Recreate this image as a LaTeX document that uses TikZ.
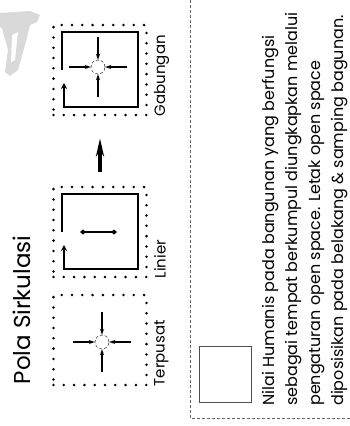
\documentclass[tikz,border=0pt]{standalone}
\usepackage{fontspec}
\setmainfont{Poppins}
\usepackage{tikz}
\usetikzlibrary{positioning, arrows.meta, calc}

\begin{document}
\begin{tikzpicture}[x=1pt, y=-1pt,
      dotbox/.style={draw, line width=2.8pt, line cap=round, dash pattern=on 0pt off 10.3pt, minimum width=93pt, minimum height=90pt, inner sep=0pt},
      route/.style={line width=2pt, -{Stealth[length=6pt, width=6pt]}},
      hub/.style={draw, circle, densely dashed, thin, minimum size=14pt, inner sep=0pt},
      inarrow/.style={line width=1.3pt, -{Stealth[length=6pt, width=4pt, open]}},
      tag/.style={rotate=90, anchor=north west, inner sep=0pt, font=\fontsize{15}{17}\selectfont}]
      \useasboundingbox (0,0) rectangle (350,426);
      % faded mark in the corner
      \fill[gray!30] (0,13) -- (30,11) -- (40,15) -- (37,22) -- (30,25) -- (25,45) -- (18,70) -- (10,76) -- (5,72) -- (8,50) -- (2,28) -- (0,27) -- cycle;
      \fill[white] (12,35) -- (18,32) -- (15,60) -- (11,62) -- cycle;
      \node[rotate=90, font=\fontsize{23}{25}\selectfont] (title) at (22,310) {Pola Sirkulasi};
      % the three patterns
      \node[dotbox] (gab) at (100,70)  {};
      \node[dotbox] (lin) at (100,232) {};
      \node[dotbox] (ter) at (100,340) {};
      \node[tag] (gabt) at ([xshift=6pt]gab.south east) {Gabungan};
      \node[tag] (lint) at ([xshift=6pt]lin.south east) {Linier};
      \node[tag] (tert) at ([xshift=6pt]ter.south east) {Terpusat};
      \foreach \b in {gab,lin}
        \draw[route] ([shift={(-38,0)}]\b.center) -- ++(0,-38) -- ++(76,0) -- ++(0,75) -- ++(-74,0) -- ++(0,-24);
      \node[hub] (gabc) at ([shift={(-2,-3)}]gab.center) {};
      \node[hub] (terc) at ([shift={(2,2)}]ter.center) {};
      \foreach \c in {gabc,terc}{
        \draw[inarrow] ([yshift=30pt]\c.center) -- (\c.north);
        \draw[inarrow] ([yshift=-30pt]\c.center) -- (\c.south);
        \draw[inarrow] ([xshift=-29pt]\c.center) -- (\c.west);
        \draw[inarrow] ([xshift=29pt]\c.center) -- (\c.east);
      }
      \draw[line width=2pt, {Diamond[length=6pt, width=5pt]}-{Diamond[length=6pt, width=5pt]}] ([xshift=-20pt]lin.center) -- ([xshift=17pt]lin.center);
      \draw[line width=4pt, shorten <=14pt, shorten >=22pt, -{Stealth[length=18pt, width=8pt]}] (lin.north) -- (gab.south);
      % description panel
      \draw[gray!80!black, densely dashed, thin] (190,0) -- (190,418) -- (350,418);
      \node[draw, gray!60!black, thin, minimum width=52pt, minimum height=56pt] (note) at (225,374) {};
      \node[rotate=90, anchor=north west, align=left, inner sep=0pt, font=\fontsize{16}{23}\selectfont] (txt) at (262,406)
        {Nilai Humanis pada bangunan yang berfungsi\\
         sebagai tempat berkumpul diungkapkan melalui\\
         pengaturan open space. Letak open space\\
         diposisikan pada belakang \& samping bagunan.};
    \end{tikzpicture}
\end{document}
